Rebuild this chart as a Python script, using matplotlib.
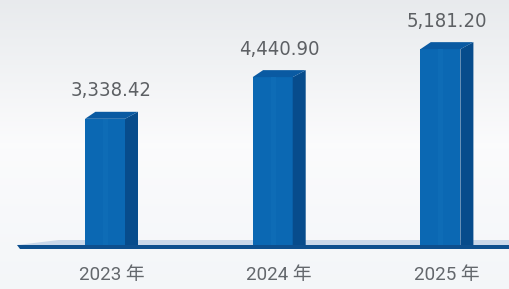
import matplotlib
matplotlib.use("Agg")
import matplotlib.pyplot as plt
import numpy as np
from matplotlib.patches import Polygon
from matplotlib import font_manager

cond = [f for f in font_manager.fontManager.ttflist
        if f.name.startswith('DejaVu Sans') and 'ondensed' in str(f.stretch) + f.fname]
num_family = ['DejaVu Sans'] if cond else ['Roboto']
num_stretch = 'condensed' if cond else 'normal'
plt.rcParams['font.family'] = ['Roboto', 'Noto Sans CJK SC', 'DejaVu Sans']

categories = ["2023 年", "2024 年", "2025 年"]
values = [3338.42, 4440.90, 5181.20]
value_labels = ["3,338.42", "4,440.90", "5,181.20"]

W, H = 509, 289
fig = plt.figure(figsize=(W/100, H/100), dpi=100)

grad = np.linspace(0, 1, 256).reshape(-1, 1)
top = np.array([0.91, 0.92, 0.93]); mid = np.array([0.985, 0.985, 0.99]); bot = np.array([0.955, 0.965, 0.975])
cols = np.where(grad[..., None] < 0.5,
                top + (mid - top) * (grad[..., None] / 0.5),
                mid + (bot - mid) * ((grad[..., None] - 0.5) / 0.5))
bg = fig.add_axes([0, 0, 1, 1], zorder=-5)
bg.imshow(cols, aspect='auto', extent=[0, 1, 0, 1])
bg.axis('off')

ax = fig.add_axes([0, 0, 1, 1], zorder=1)
ax.patch.set_alpha(0)

k = 0.0378  # px per unit
base_px = 44
ax.set_ylim(-base_px / k, (H - base_px) / k)
pxu = 167.7
x0px = 111.5
ax.set_xlim(-x0px / pxu, (W - x0px) / pxu)

front_w = 40 / pxu
depth = 13 / pxu
dy = 7 / k

x = np.arange(len(categories))
front_left = x - (front_w + depth) / 2
ax.bar(front_left, values, width=front_w, align='edge', color='#0b68b3', zorder=3, linewidth=0)
ax.bar(front_left + front_w * 0.45, values, width=front_w * 0.12, align='edge', color='#0e6cb6', zorder=3.1, linewidth=0)
for xl, v in zip(front_left, values):
    xr = xl + front_w
    side = Polygon([(xr, 0), (xr + depth, 0), (xr + depth, v + dy), (xr, v)],
                   closed=True, color='#074c8c', zorder=3, linewidth=0)
    ax.add_patch(side)
    topf = Polygon([(xl, v), (xl + depth * 0.8, v + dy), (xr + depth, v + dy), (xr, v)],
                   closed=True, color='#0a5aa2', zorder=3, linewidth=0)
    ax.add_patch(topf)

for xi, v, lab in zip(x, values, value_labels):
    ax.text(xi, v + 28 / k, lab, ha='center', va='center', fontsize=14.5,
            color='#5d6064', family=num_family, fontstretch=num_stretch)

xl_base = (17 - x0px) / pxu
xr_base = (W - x0px) / pxu + 0.1
plat = Polygon([(xl_base, 0), (xl_base + 0.25, 5 / k), (xr_base, 5 / k), (xr_base, 0)],
               closed=True, color='#c9d8ea', zorder=2, linewidth=0)
ax.add_patch(plat)
edge = Polygon([(xl_base, 0), (xr_base, 0), (xr_base, -3.5 / k), (xl_base + 0.02, -3.5 / k)],
               closed=True, color='#0d4f8e', zorder=4, linewidth=0)
ax.add_patch(edge)

for xi, c in zip(x, categories):
    ax.text(xi, -30 / k, c, ha='center', va='center', fontsize=13.5, color='#63676c')

ax.axis('off')
fig.savefig('out.png', dpi=100)
